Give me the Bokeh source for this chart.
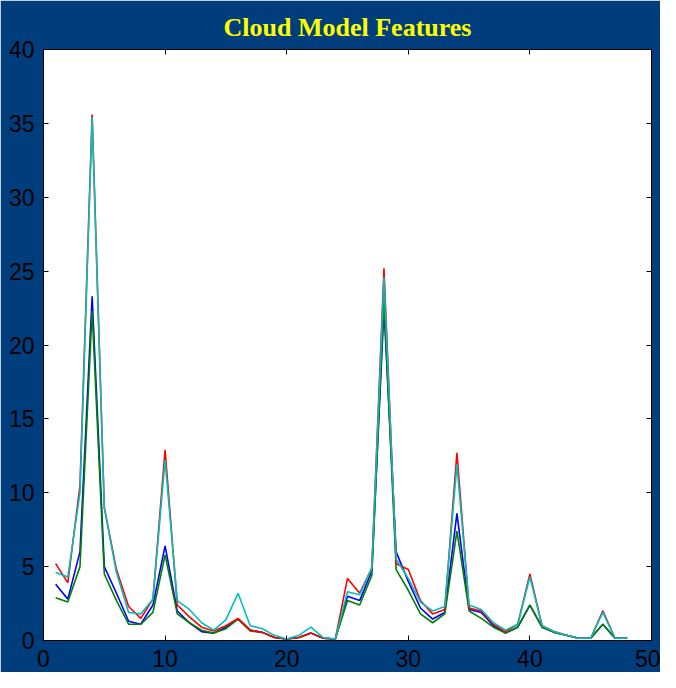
from bokeh.plotting import figure
from bokeh.models import LinearAxis, FixedTicker, Range1d
from bokeh.embed import file_html
from bokeh.resources import INLINE

# ---- data (feature index 1..48, four feature series) ----
x = list(range(1, 49))
red = [5.2, 3.9, 10.5, 35.6, 9.0, 4.8, 2.3, 1.5, 2.8, 12.9,
       2.4, 1.6, 0.9, 0.65, 1.0, 1.5, 0.7, 0.55, 0.2, 0.1,
       0.2, 0.5, 0.15, 0.1, 4.2, 3.2, 4.9, 25.2, 5.2, 4.8,
       2.7, 1.8, 2.1, 12.7, 2.2, 2.0, 1.1, 0.6, 1.1, 4.5,
       1.0, 0.6, 0.35, 0.15, 0.15, 2.0, 0.15, 0.15]
blue = [3.8, 2.8, 6.0, 23.3, 5.0, 3.2, 1.3, 1.1, 2.4, 6.4,
        2.0, 1.2, 0.6, 0.5, 0.9, 1.45, 0.7, 0.55, 0.2, 0.1,
        0.2, 0.5, 0.15, 0.1, 3.0, 2.7, 4.7, 22.5, 6.0, 4.0,
        2.2, 1.45, 1.9, 8.6, 2.1, 1.9, 1.0, 0.5, 0.9, 2.4,
        0.9, 0.55, 0.35, 0.15, 0.15, 1.1, 0.15, 0.15]
green = [2.9, 2.6, 5.0, 22.3, 4.5, 2.7, 1.1, 1.1, 1.9, 5.8,
         1.8, 1.2, 0.7, 0.5, 0.8, 1.45, 0.65, 0.55, 0.2, 0.1,
         0.2, 0.5, 0.15, 0.1, 2.7, 2.4, 4.4, 23.2, 4.8, 3.4,
         1.8, 1.2, 1.8, 7.4, 2.0, 1.5, 0.9, 0.5, 0.9, 2.4,
         0.9, 0.55, 0.35, 0.15, 0.15, 1.1, 0.15, 0.15]
cyan = [4.6, 4.3, 10.0, 35.4, 9.0, 4.6, 1.9, 1.8, 2.8, 12.2,
        2.7, 2.1, 1.2, 0.7, 1.4, 3.2, 1.0, 0.8, 0.35, 0.1,
        0.35, 0.9, 0.2, 0.1, 3.3, 3.1, 4.9, 24.6, 5.5, 4.2,
        2.6, 2.0, 2.3, 11.9, 2.4, 2.1, 1.2, 0.7, 1.1, 4.3,
        1.0, 0.6, 0.35, 0.15, 0.15, 1.9, 0.15, 0.15]

x_ticks = [0, 10, 20, 30, 40, 50]
y_ticks = [0, 5, 10, 15, 20, 25, 30, 35, 40]

BG = "#003d7d"

p = figure(width=660, height=672, output_backend="svg", toolbar_location=None,
           x_range=Range1d(0, 50), y_range=Range1d(0, 40),
           background_fill_color="white", border_fill_color=BG,
           min_border_left=43, min_border_right=9, min_border_top=49,
           min_border_bottom=32, x_axis_type=None, y_axis_type=None)

p.title.text = "Cloud Model Features"
p.title.align = "center"
p.title.text_color = "#ffff00"
p.title.text_font = "Liberation Serif"
p.title.text_font_style = "bold"
p.title.text_font_size = "26px"
p.title.standoff = 15

p.outline_line_color = "black"
p.outline_line_width = 1
p.xgrid.grid_line_color = None
p.ygrid.grid_line_color = None


def make_axis(ticks, show_labels):
    ax = LinearAxis(ticker=FixedTicker(ticks=ticks))
    ax.major_tick_in = 5
    ax.major_tick_out = 0
    ax.major_tick_line_color = "black"
    ax.minor_tick_line_color = None
    ax.axis_line_color = "black"
    ax.major_label_text_font = "Liberation Sans"
    ax.major_label_text_font_size = "23px"
    ax.major_label_text_color = "black"
    if show_labels:
        ax.major_label_standoff = 9
    else:
        ax.major_label_overrides = {t: "" for t in ticks}
        ax.major_label_standoff = 0
    return ax


p.add_layout(make_axis(x_ticks, True), "below")
p.add_layout(make_axis(y_ticks, True), "left")
p.add_layout(make_axis(x_ticks, False), "above")
p.add_layout(make_axis(y_ticks, False), "right")

for ys, col in [(blue, "#0000ff"), (green, "#008000"), (red, "#ff0000"), (cyan, "#00bfbf")]:
    p.line(x, ys, line_color=col, line_width=1.6)

open("out.html", "w").write(file_html(p, INLINE))
